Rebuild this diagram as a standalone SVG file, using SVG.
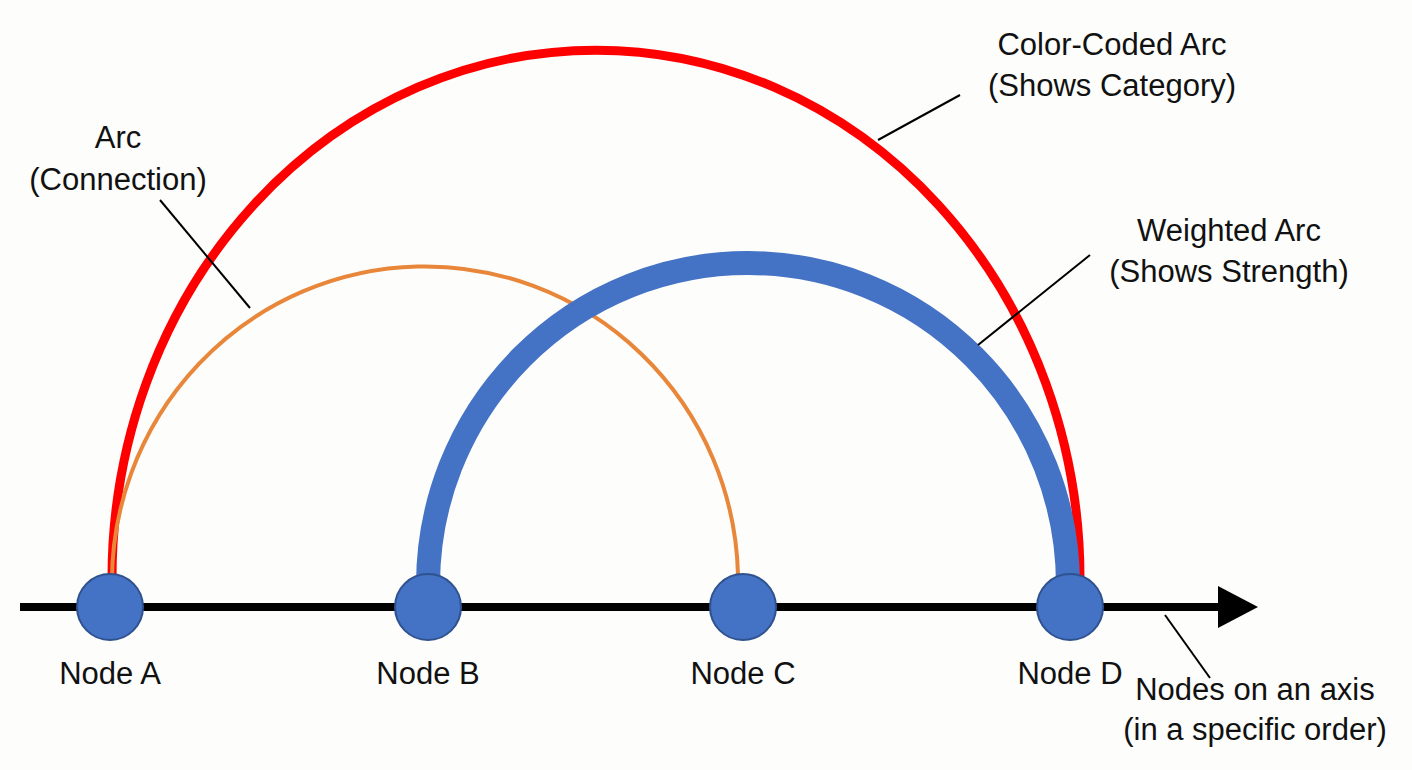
<svg xmlns="http://www.w3.org/2000/svg" width="1412" height="770" viewBox="0 0 1412 770">
<style>
text{font-family:"Liberation Sans",Arial,sans-serif;font-size:31px;fill:#111;text-anchor:middle}
.lead{stroke:#000;stroke-width:2;fill:none}
.node{fill:#4472c4;stroke:#2f528f;stroke-width:2}
</style>
<rect width="1412" height="770" fill="#fdfdfc"/>
<g id="connectors" fill="none">
<path d="M112 578 A484 528 0 0 1 1080 578" stroke="#ff0000" stroke-width="9"/>
<path d="M112 590 A313 316 0 0 1 738 575" stroke="#e8873a" stroke-width="4"/>
<path d="M428 585 A320 322 0 0 1 1068 585" stroke="#4472c4" stroke-width="24"/>
<line x1="20" y1="607" x2="1222" y2="607" stroke="#000" stroke-width="8"/>
<polygon points="1218,586 1258,607 1218,628" fill="#000"/>
<line class="lead" x1="160" y1="200" x2="250" y2="308"/>
<line class="lead" x1="960" y1="95" x2="878" y2="140"/>
<line class="lead" x1="1090" y1="255" x2="978" y2="345"/>
<line class="lead" x1="1210" y1="678" x2="1165" y2="615"/>
</g>
<g id="nodeA"><circle class="node" cx="110" cy="607" r="33"/><text x="110" y="684">Node A</text></g>
<g id="nodeB"><circle class="node" cx="428" cy="607" r="33"/><text x="428" y="684">Node B</text></g>
<g id="nodeC"><circle class="node" cx="743" cy="607" r="33"/><text x="743" y="684">Node C</text></g>
<g id="nodeD"><circle class="node" cx="1070" cy="607" r="33"/><text x="1070" y="684">Node D</text></g>
<g id="labels">
<text x="118" y="148">Arc</text><text x="118" y="190">(Connection)</text>
<text x="1112" y="55">Color-Coded Arc</text><text x="1112" y="96">(Shows Category)</text>
<text x="1229" y="241">Weighted Arc</text><text x="1229" y="282">(Shows Strength)</text>
<text x="1255" y="700">Nodes on an axis</text><text x="1255" y="740">(in a specific order)</text>
</g>
</svg>
